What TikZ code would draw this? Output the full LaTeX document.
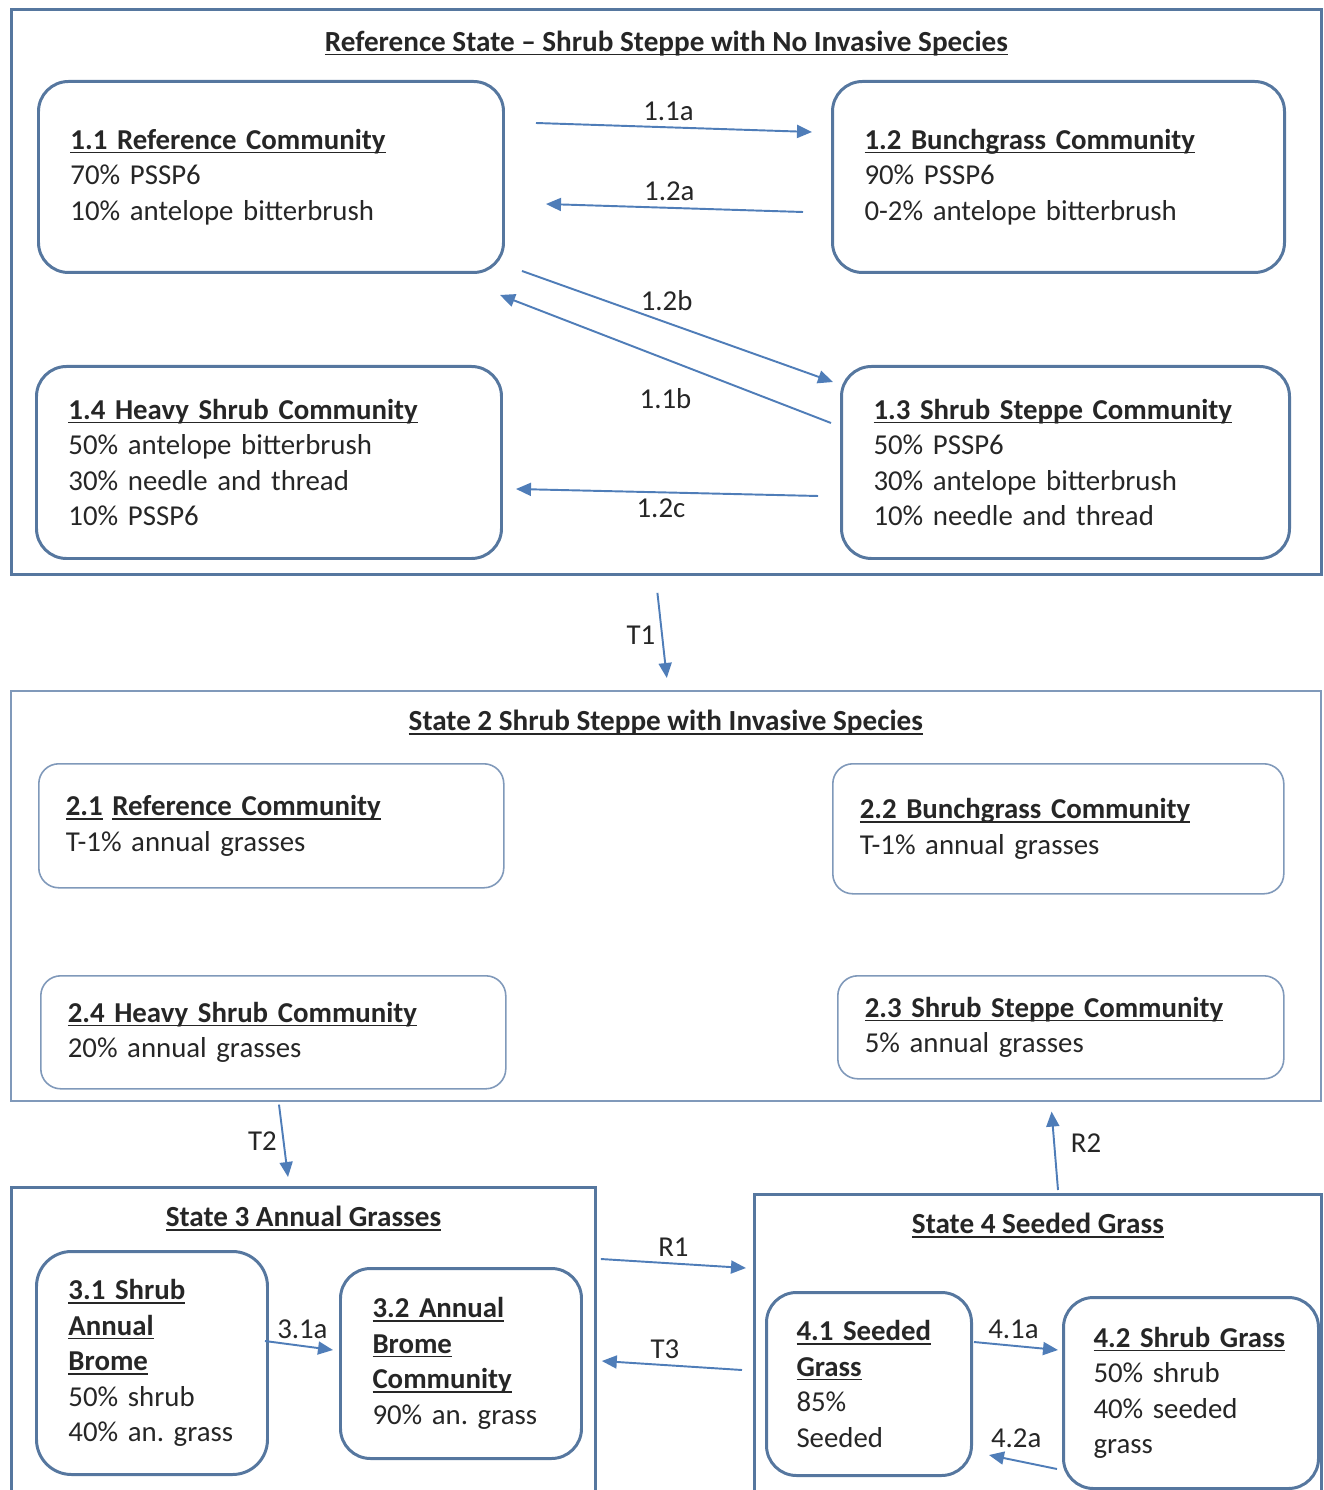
\documentclass[tikz,border=0pt]{standalone}
\usepackage{fontspec}
\setmainfont{Carlito}
\usepackage{xcolor}
\usetikzlibrary{arrows, arrows.meta, positioning, calc}

\definecolor{stateblue}{HTML}{56779F}
\definecolor{lightstate}{HTML}{8099BA}
\definecolor{arrowblue}{HTML}{4F7DB8}
\newsavebox{\ulsave}
\newcommand{\ulbox}[1]{\leavevmode\sbox{\ulsave}{#1}\rlap{\rule[-2.2pt]{\wd\ulsave}{0.75pt}}\usebox{\ulsave}}
\newcommand{\commtitle}[1]{\ulbox{\textbf{#1}}}
\frenchspacing

\begin{document}
\begin{tikzpicture}[
    every node/.style={font=\fontsize{16.4}{20.2}\selectfont, text=black!85},
    statebox/.style={rectangle, draw=stateblue, line width=1.6pt, anchor=north west},
    lightstatebox/.style={statebox, draw=lightstate, line width=0.9pt},
    statetitle/.style={inner sep=0pt, font=\fontsize{16.6}{19}\selectfont\bfseries},
    community/.style={rectangle, rounded corners=0.6cm, draw=stateblue, line width=1.7pt, anchor=north west, align=left, inner xsep=0.64cm, inner ysep=0pt},
    lightcommunity/.style={community, rounded corners=0.4cm, draw=lightstate, line width=0.9pt, inner xsep=0.54cm},
    trans/.style={-{Triangle[length=0.3cm, width=0.26cm]}, line width=1.1pt, arrowblue}
]
    \path[use as bounding box, clip] (0,0) rectangle (26.46,-29.8);

    % Reference state
    \node (s1) [statebox, minimum width=26.2cm, minimum height=11.3cm] at (0.2,-0.16) {};
    \node (t1) [statetitle, below=0.45cm of s1.north] {\ulbox{Reference State -- Shrub Steppe with No Invasive Species}};
    \node (b11) [community, text width=8.02cm, minimum height=3.82cm] at (0.74,-1.6) {\commtitle{1.1 Reference Community}\\70\% PSSP6\\10\% antelope bitterbrush};
    \node (b12) [community, text width=7.76cm, minimum height=3.82cm] at (16.62,-1.6) {\commtitle{1.2 Bunchgrass Community}\\90\% PSSP6\\0-2\% antelope bitterbrush};
    \node (b14) [community, text width=8.02cm, minimum height=3.84cm] at (0.7,-7.3) {\commtitle{1.4 Heavy Shrub Community}\\50\% antelope bitterbrush\\30\% needle and thread\\10\% PSSP6};
    \node (b13) [community, text width=7.68cm, minimum height=3.84cm] at (16.8,-7.3) {\commtitle{1.3 Shrub Steppe Community}\\50\% PSSP6\\30\% antelope bitterbrush\\10\% needle and thread};

    \draw[trans] ($(b11.north east)+(0.62,-0.86)$) -- node[above, pos=0.48]{1.1a} ($(b12.north west)+(-0.38,-1.04)$);
    \draw[trans] ($(b12.north west)+(-0.56,-2.64)$) -- node[above, pos=0.52]{1.2a} ($(b11.north east)+(0.82,-2.48)$);
    \draw[trans] ($(b11.south east)+(0.34,0.06)$) -- node[pos=0.465, above=0.1cm]{1.2b} ($(b13.north west)+(-0.14,-0.34)$);
    \draw[trans] ($(b13.north west)+(-0.18,-1.16)$) -- node[pos=0.5, below=0.45cm]{1.1b} ($(b11.south east)+(-0.1,-0.42)$);
    \draw[trans] ($(b13.south west)+(-0.44,1.28)$) -- node[below, pos=0.52]{1.2c} ($(b14.south east)+(0.26,1.42)$);

    % State 2
    \node (s2) [lightstatebox, minimum width=26.2cm, minimum height=8.2cm] at (0.2,-13.8) {};
    \node (t2) [statetitle, below=0.4cm of s2.north] {\ulbox{State 2 Shrub Steppe with Invasive Species}};
    \node (b21) [lightcommunity, text width=8.22cm, minimum height=2.48cm] at (0.76,-15.26) {\commtitle{2.1}\ \commtitle{Reference Community}\\T-1\% annual grasses};
    \node (b22) [lightcommunity, text width=7.94cm, minimum height=2.6cm] at (16.64,-15.26) {\commtitle{2.2 Bunchgrass Community}\\T-1\% annual grasses};
    \node (b24) [lightcommunity, text width=8.22cm, minimum height=2.26cm] at (0.8,-19.5) {\commtitle{2.4 Heavy Shrub Community}\\20\% annual grasses};
    \node (b23) [lightcommunity, text width=7.84cm, minimum height=2.06cm] at (16.74,-19.5) {\commtitle{2.3 Shrub Steppe Community}\\5\% annual grasses};

    \draw[trans] ($(s1.south)+(-0.18,-0.34)$) -- node[left]{T1} ($(s2.north)+(0.02,0.24)$);

    % State 3
    \node (s3) [statebox, minimum width=11.68cm, minimum height=6.4cm] at (0.2,-23.72) {};
    \node (t3) [statetitle, below=0.4cm of s3.north] {\ulbox{State 3 Annual Grasses}};
    \node (b31) [community, rounded corners=0.7cm, text width=3.34cm, minimum height=4.46cm] at (0.7,-25.0) {\commtitle{3.1 Shrub}\\\commtitle{Annual}\\\commtitle{Brome}\\50\% shrub\\40\% an. grass};
    \node (b32) [community, text width=3.54cm, minimum height=3.8cm] at (6.78,-25.34) {\commtitle{3.2 Annual}\\\commtitle{Brome}\\\commtitle{Community}\\90\% an. grass};
    \draw[trans] ($(b31.north east)+(-0.08,-1.82)$) -- node[above, pos=0.55]{3.1a} ($(b32.north west)+(-0.12,-1.66)$);

    % State 4
    \node (s4) [statebox, minimum width=11.34cm, minimum height=6.3cm] at (15.06,-23.86) {};
    \node (t4) [statetitle, below=0.4cm of s4.north] {\ulbox{State 4 Seeded Grass}};
    \node (b41) [community, text width=2.9cm, minimum height=3.66cm, inner xsep=0.6cm] at (15.3,-25.82) {\commtitle{4.1 Seeded}\\\commtitle{Grass}\\85\%\\Seeded};
    \node (b42) [community, text width=3.9cm, minimum height=3.82cm, inner xsep=0.6cm] at (21.24,-25.92) {\commtitle{4.2 Shrub Grass}\\50\% shrub\\40\% seeded\\grass};
    \draw[trans] ($(b41.north east)+(0.02,-1.02)$) -- node[above, pos=0.47]{4.1a} ($(b42.north west)+(-0.08,-1.08)$);
    \draw[trans] ($(b42.north west)+(-0.1,-3.46)$) -- node[above=0.12cm, pos=0.6]{4.2a} ($(b41.north east)+(0.32,-3.28)$);

    % transitions between states
    \draw[trans] ($(s2.south west)+(5.38,-0.06)$) -- node[left]{T2} ($(s3.north west)+(5.56,0.18)$);
    \draw[trans] ($(s4.north west)+(6.1,0.06)$) -- node[right=0.2cm, pos=0.6]{R2} ($(s2.south east)+(-5.4,-0.2)$);
    \draw[trans] ($(s3.north east)+(0.08,-1.46)$) -- node[above]{R1} ($(s4.north west)+(-0.14,-1.5)$);
    \draw[trans] ($(s4.north west)+(-0.22,-3.54)$) -- node[above, pos=0.55]{T3} ($(s3.north east)+(0.1,-3.5)$);
\end{tikzpicture}
\end{document}
